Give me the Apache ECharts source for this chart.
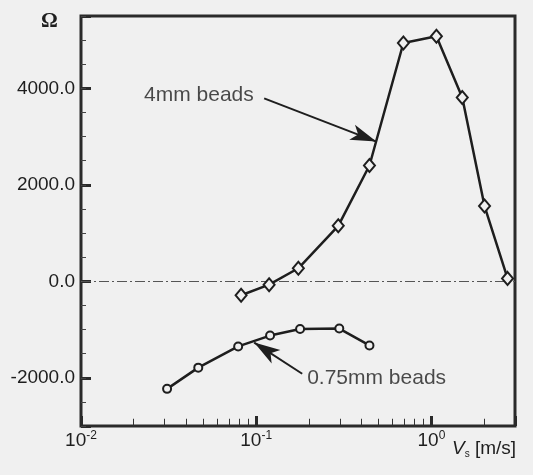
<!DOCTYPE html>
<html>
<head>
<meta charset="utf-8">
<script src="https://cdn.jsdelivr.net/npm/echarts@6/dist/echarts.min.js"></script>
<style>
html,body{margin:0;padding:0;background:#f0f0f0;}
#c{width:533px;height:475px;}
</style>
</head>
<body>
<div id="c"></div>
<script>
// ---- data ----
const vs4mm = [0.082, 0.1185, 0.174, 0.294, 0.443, 0.692, 1.068, 1.50, 2.01, 2.72];
const omega4mm = [-290, -70, 270, 1150, 2400, 4940, 5080, 3810, 1560, 60];
const vs075mm = [0.031, 0.0467, 0.0789, 0.120, 0.178, 0.298, 0.443];
const omega075mm = [-2230, -1790, -1350, -1125, -990, -980, -1330];
const xMinorTicks = [0.02,0.03,0.04,0.05,0.06,0.07,0.08,0.09,0.2,0.3,0.4,0.5,0.6,0.7,0.8,0.9,2];
const yMin = -3000, yMax = 5500, yLabelStep = 2000, yMinorStep = 500;
const xMinorTickStart = yMin + 10;  // just inside the plot edge
const xMinorTickEnd = yMin + 150;   // about 7 px long
// annotation anchors (data coordinates)
const label4mm = [0.0229, 3854, '4mm beads'];
const label075mm = [0.1954, -2000, '0.75mm beads'];
const arrow4mm = [[0.111, 3792], [0.485, 2896]];
const arrow075mm = [[0.183, -1917], [0.0974, -1271]];

const ink = '#1e1e1e';
const txt = '#1e1e1e';
const bg = '#f0f0f0';

const zeroLine = {yAxis: 0, lineStyle: {color: '#555', width: 1, type: [10, 3, 2, 3]}};
const minorTickLines = xMinorTicks.map(v => [
  {coord: [v, xMinorTickStart], lineStyle: {color: '#333', width: 1, type: 'solid'}},
  {coord: [v, xMinorTickEnd]}
]);

const chart = echarts.init(document.getElementById('c'), null, {renderer: 'canvas'});
chart.setOption({
  animation: false,
  backgroundColor: bg,
  grid: {left: 81, right: 18, top: 16, bottom: 49, show: true, borderColor: '#2a2a2a', borderWidth: 3, backgroundColor: 'transparent'},
  xAxis: {
    type: 'log', logBase: 10, min: 0.01, max: 3,
    axisLine: {show: false, onZero: false},
    axisTick: {inside: true, length: 10, lineStyle: {width: 3, color: '#2a2a2a'}},
    splitLine: {show: false},
    axisLabel: {
      margin: 4, color: txt, fontFamily: 'Liberation Sans', fontSize: 19,
      formatter: function (v) {
        const l = Math.log10(v); const e = Math.round(l);
        if (Math.abs(l - e) > 1e-6) return '';
        return '{b|10}{s|' + e + '}';
      },
      rich: {
        b: {fontSize: 19, fontFamily: 'Liberation Sans', color: txt, lineHeight: 22},
        s: {fontSize: 12, fontFamily: 'Liberation Sans', color: txt, verticalAlign: 'top', lineHeight: 22, padding: [0, 0, 8, 0]}
      }
    }
  },
  yAxis: [{
    type: 'value', min: yMin, max: yMax, splitNumber: 4,
    axisLine: {show: false, onZero: false},
    axisTick: {inside: true, length: 10, lineStyle: {width: 3, color: '#2a2a2a'}},
    splitLine: {show: false},
    axisLabel: {
      margin: 6, color: txt, fontFamily: 'Liberation Sans', fontSize: 19,
      formatter: function (v) { return (v % yLabelStep === 0) ? v.toFixed(1) : ''; }
    }
  }, {
    type: 'value', min: yMin, max: yMax, interval: yMinorStep, position: 'left',
    axisLine: {show: false, onZero: false},
    axisTick: {inside: true, length: 5, lineStyle: {width: 1, color: '#444'}},
    axisLabel: {show: false},
    splitLine: {show: false}
  }],
  graphic: [
    {type: 'text', left: 41, top: 11, style: {text: 'Ω', font: 'bold 21px "Liberation Serif"', fill: txt}},
    {type: 'text', left: 452, top: 439, style: {
      text: '{v|V}{s|s}{n| [m/s]}', fill: txt,
      rich: {
        v: {fontStyle: 'italic', fontSize: 19, fontFamily: 'Liberation Sans', fill: txt, lineHeight: 22},
        s: {fontSize: 10, fontFamily: 'Liberation Sans', fill: txt, verticalAlign: 'bottom', lineHeight: 22, padding: [8, 0, 0, 0]},
        n: {fontSize: 19, fontFamily: 'Liberation Sans', fill: txt, lineHeight: 22}
      }
    }}
  ],
  series: [
    {
      name: '4mm', type: 'line', yAxisIndex: 0,
      data: vs4mm.map((x, i) => [x, omega4mm[i]]),
      symbol: 'diamond', symbolSize: [11, 13],
      lineStyle: {color: ink, width: 2.5},
      itemStyle: {color: bg, borderColor: ink, borderWidth: 2},
      z: 5,
      markLine: {
        silent: true, animation: false,
        symbol: ['none', 'none'],
        label: {show: false},
        data: [zeroLine].concat(minorTickLines)
      }
    },
    {
      name: '0.75mm', type: 'line', yAxisIndex: 0,
      data: vs075mm.map((x, i) => [x, omega075mm[i]]),
      symbol: 'circle', symbolSize: 8,
      lineStyle: {color: ink, width: 2.5},
      itemStyle: {color: bg, borderColor: ink, borderWidth: 2},
      z: 5,
      markLine: {
        silent: true, animation: false,
        symbol: ['none', 'arrow'],
        symbolSize: 14,
        label: {show: false},
        lineStyle: {color: ink, width: 2, type: 'solid'},
        data: [
          [{coord: arrow4mm[0]}, {coord: arrow4mm[1], symbolSize: [12, 26]}],
          [{coord: arrow075mm[0]}, {coord: arrow075mm[1], symbolSize: [12, 26]}]
        ]
      }
    },
    {
      name: 'labels', type: 'scatter', yAxisIndex: 0,
      data: [label4mm, label075mm],
      symbolSize: 0, silent: true,
      label: {
        show: true, position: 'right', distance: 0,
        formatter: p => p.data[2],
        color: txt, fontFamily: 'Liberation Sans', fontSize: 21
      }
    }
  ]
});
</script>
</body>
</html>
